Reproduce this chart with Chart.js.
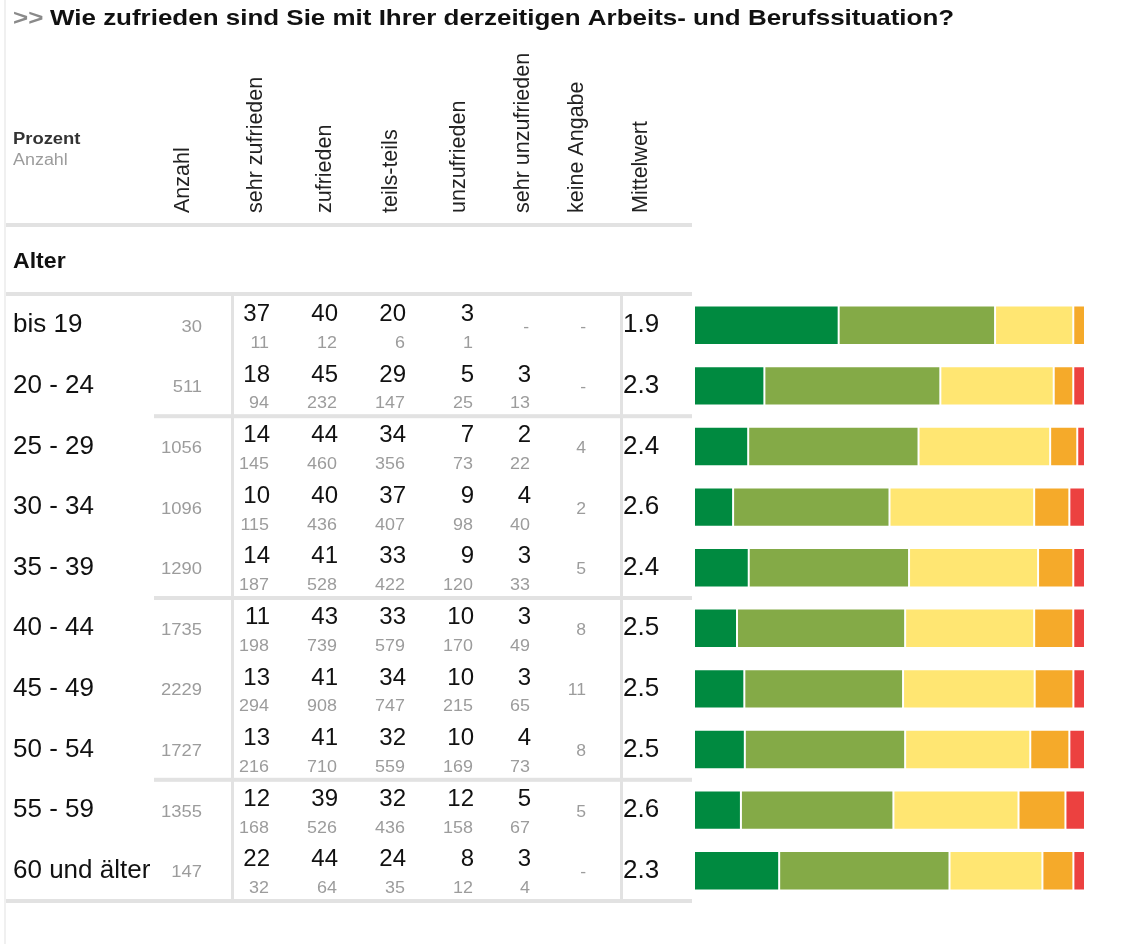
<!DOCTYPE html>
<html lang="de">
<head>
<meta charset="utf-8">
<title>Arbeits- und Berufssituation</title>
<script src="https://cdn.jsdelivr.net/npm/chart.js@4.4.1/dist/chart.umd.min.js"></script>
<style>
  html, body { margin: 0; padding: 0; background: #fff; }
  canvas { display: block; }
</style>
</head>
<body>
<canvas id="zufriedenChart" width="1148" height="944"></canvas>
<script>
// Altersgruppen
const ageGroups = ['bis 19', '20 - 24', '25 - 29', '30 - 34', '35 - 39', '40 - 44', '45 - 49', '50 - 54', '55 - 59', '60 und älter'];
const anzahl = [30, 511, 1056, 1096, 1290, 1735, 2229, 1727, 1355, 147];

// Prozent
const sehrZufrieden = [37, 18, 14, 10, 14, 11, 13, 13, 12, 22];
const zufrieden = [40, 45, 44, 40, 41, 43, 41, 41, 39, 44];
const teilsTeils = [20, 29, 34, 37, 33, 33, 34, 32, 32, 24];
const unzufrieden = [3, 5, 7, 9, 9, 10, 10, 10, 12, 8];
const sehrUnzufrieden = [null, 3, 2, 4, 3, 3, 3, 4, 5, 3];

// Anzahl je Antwort
const nSehrZufrieden = [11, 94, 145, 115, 187, 198, 294, 216, 168, 32];
const nZufrieden = [12, 232, 460, 436, 528, 739, 908, 710, 526, 64];
const nTeilsTeils = [6, 147, 356, 407, 422, 579, 747, 559, 436, 35];
const nUnzufrieden = [1, 25, 73, 98, 120, 170, 215, 169, 158, 12];
const nSehrUnzufrieden = [null, 13, 22, 40, 33, 49, 65, 73, 67, 4];
const keineAngabe = [null, null, 4, 2, 5, 8, 11, 8, 5, null];
const mittelwert = [1.9, 2.3, 2.4, 2.6, 2.4, 2.5, 2.5, 2.5, 2.6, 2.3];

const headers = ['Anzahl', 'sehr zufrieden', 'zufrieden', 'teils-teils', 'unzufrieden', 'sehr unzufrieden', 'keine Angabe', 'Mittelwert'];
const colors = ['#008a40', '#84aa47', '#ffe672', '#f5aa2a', '#ec4140'];

const FONT = '"Liberation Sans", Arial, sans-serif';

// each bar is scaled to 100 % of the valid answers
const series = [sehrZufrieden, zufrieden, teilsTeils, unzufrieden, sehrUnzufrieden];
const rowSums = ageGroups.map((_, i) => series.reduce((s, arr) => s + (arr[i] || 0), 0));
const datasets = series.map((arr, k) => ({
    label: headers[k + 1],
    data: arr.map((v, i) => v == null ? 0 : v / rowSums[i] * 100),
    backgroundColor: colors[k],
    borderColor: '#ffffff',
    borderWidth: 1,
    borderSkipped: false,
    categoryPercentage: 1,
    barPercentage: 0.65
}));

// text with a slight horizontal stretch like the original rendering
function text(ctx, str, x, y, font, color, align, sx) {
    ctx.save();
    ctx.font = font;
    ctx.fillStyle = color;
    ctx.textAlign = align || 'left';
    ctx.translate(x, y);
    ctx.scale(sx || 1, 1);
    ctx.fillText(str, 0, 0);
    ctx.restore();
}

// draws the table on the left with the rows taken from the y scale
const tablePlugin = {
    id: 'table',
    afterDraw(chart) {
        const ctx = chart.ctx;
        const y = chart.scales.y;
        const rowY = i => y.getPixelForValue(i);
        const half = (rowY(1) - rowY(0)) / 2;
        const lineColor = '#e2e2e2';
        const grey = '#9c9c9c';

        ctx.save();

        // faint left edge
        ctx.fillStyle = '#f0f0f0';
        ctx.fillRect(4, 0, 2, 944);

        // title
        ctx.textBaseline = 'alphabetic';
        text(ctx, '>>', 13, 25, 'bold 22px ' + FONT, '#8a8a8a', 'left', 1.18);
        text(ctx, 'Wie zufrieden sind Sie mit Ihrer derzeitigen Arbeits- und Berufssituation?', 50, 25, 'bold 22px ' + FONT, '#111', 'left', 1.18);

        text(ctx, 'Prozent', 13, 144, 'bold 16px ' + FONT, '#333', 'left', 1.15);
        text(ctx, 'Anzahl', 13, 165, '16px ' + FONT, grey, 'left', 1.12);

        // rotated column heads
        const headX = [183, 256, 325, 391, 459, 523, 577, 641];
        ctx.font = '21.5px ' + FONT;
        ctx.fillStyle = '#222';
        ctx.textBaseline = 'middle';
        ctx.textAlign = 'left';
        headers.forEach((h, k) => {
            ctx.save();
            ctx.translate(headX[k], 213);
            ctx.rotate(-Math.PI / 2);
            ctx.fillText(h, 0, 0);
            ctx.restore();
        });

        ctx.textBaseline = 'alphabetic';
        text(ctx, 'Alter', 13, 268, 'bold 22px ' + FONT, '#111', 'left', 1.05);

        // lines
        const top = rowY(0) - half;
        const bottom = rowY(ageGroups.length - 1) + half;
        ctx.fillStyle = lineColor;
        ctx.fillRect(6, 223, 686, 4);
        ctx.fillRect(6, top - 3, 686, 4);
        ctx.fillRect(6, bottom - 2, 686, 4);
        [1, 4, 7].forEach(i => {
            const yy = (rowY(i) + rowY(i + 1)) / 2;
            ctx.fillRect(154, yy - 2, 538, 4);
        });
        ctx.fillRect(231, top, 3, bottom - top);
        ctx.fillRect(620, top, 3, bottom - top);

        // rows
        const pctCols = [sehrZufrieden, zufrieden, teilsTeils, unzufrieden, sehrUnzufrieden];
        const cntCols = [nSehrZufrieden, nZufrieden, nTeilsTeils, nUnzufrieden, nSehrUnzufrieden];
        const colRight = [270, 338, 406, 474, 531];
        ctx.textBaseline = 'middle';
        ageGroups.forEach((g, i) => {
            const cy = rowY(i);

            text(ctx, g, 13, cy, '26px ' + FONT, '#111', 'left', 1.0);
            text(ctx, String(anzahl[i]), 202, cy + 2, '16px ' + FONT, grey, 'right', 1.15);

            pctCols.forEach((col, k) => {
                if (col[i] == null) {
                    text(ctx, '-', colRight[k] - 2, cy + 2, '16px ' + FONT, grey, 'right', 1.1);
                    return;
                }
                text(ctx, String(col[i]), colRight[k], cy - 11, '24px ' + FONT, '#111', 'right', 1.0);
                text(ctx, String(cntCols[k][i]), colRight[k] - 1, cy + 18, '16px ' + FONT, grey, 'right', 1.12);
            });

            text(ctx, keineAngabe[i] == null ? '-' : String(keineAngabe[i]), 586, cy + 2, '16px ' + FONT, grey, 'right', 1.1);
            text(ctx, mittelwert[i].toFixed(1), 623, cy, '26px ' + FONT, '#111', 'left', 1.0);
        });

        ctx.restore();
    }
};

const ctx = document.getElementById('zufriedenChart').getContext('2d');
new Chart(ctx, {
    type: 'bar',
    data: {
        labels: ageGroups,
        datasets: datasets
    },
    options: {
        indexAxis: 'y',
        responsive: false,
        animation: false,
        devicePixelRatio: 1,
        layout: {
            padding: { left: 694, right: 63, top: 295, bottom: 43 }
        },
        scales: {
            x: { stacked: true, min: 0, max: 100, display: false },
            y: { stacked: true, display: false }
        },
        plugins: {
            legend: { display: false },
            tooltip: { enabled: false }
        }
    },
    plugins: [tablePlugin]
});
</script>
</body>
</html>
